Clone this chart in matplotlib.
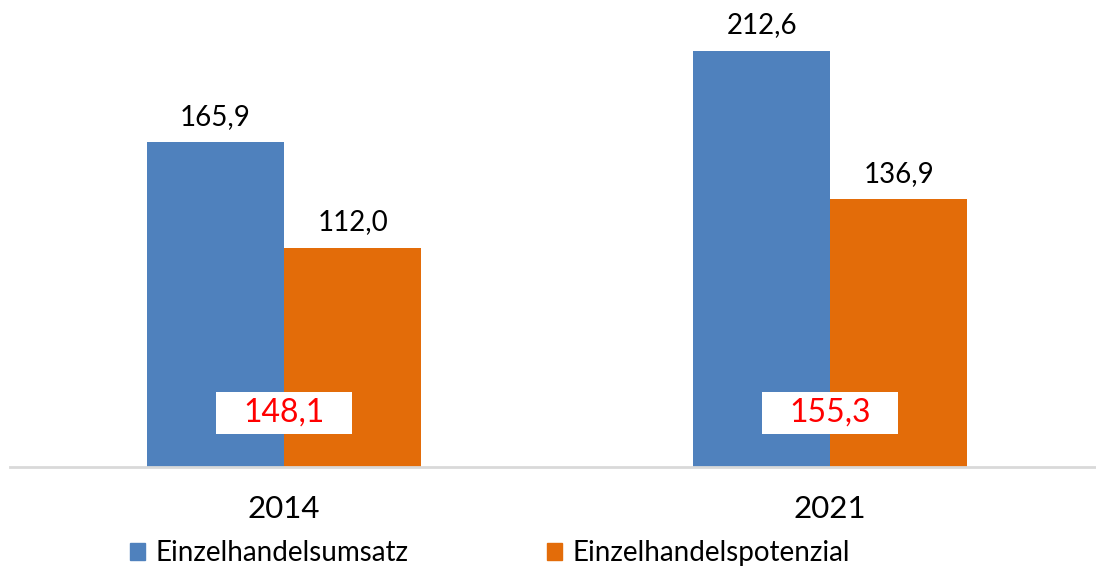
import matplotlib.pyplot as plt
import numpy as np
from matplotlib.patches import Patch, Rectangle

years = ["2014", "2021"]
umsatz = [165.9, 212.6]
potenzial = [112.0, 136.9]
zentral = [148.1, 155.3]

blue = "#4F81BD"
orange = "#E36C09"

plt.rcParams['font.family'] = ['Lato', 'DejaVu Sans']

def de(v):
    return f"{v:.1f}".replace(".", ",")

fig = plt.figure(figsize=(10.96, 5.69), dpi=100)
ax = fig.add_axes([10 / 1096, 102 / 569, 1086 / 1096, 450 / 569])

x = np.arange(len(years))
w = 0.251
b1 = ax.bar(x - w / 2, umsatz, w, color=blue, label="Einzelhandelsumsatz")
b2 = ax.bar(x + w / 2, potenzial, w, color=orange, label="Einzelhandelspotenzial")

for bars in (b1, b2):
    for r in bars:
        ax.annotate(de(r.get_height()), (r.get_x() + r.get_width() / 2, r.get_height()),
                    xytext=(0, 9), textcoords="offset points", ha="center", va="bottom",
                    fontsize=20, color="#000000")

# white boxes with the red values
box_w, box_h, box_y = 0.249, 21.5, 27.7
for xi, v in zip(x, zentral):
    ax.add_patch(Rectangle((xi - box_w / 2, box_y - box_h / 2), box_w, box_h,
                           fc="white", ec="none", zorder=3))
    ax.text(xi, box_y, de(v), ha="center", va="center", fontsize=23, color="#FF0000",
            zorder=4)

ax.set_xlim(-0.502, 1.487)
ax.set_ylim(0, 230)
ax.set_xticks(x)
ax.set_xticklabels(years, fontsize=22.5)
ax.tick_params(axis="x", length=0, pad=20)
ax.set_yticks([])
for s in ["top", "right", "left"]:
    ax.spines[s].set_visible(False)
ax.spines["bottom"].set_color("#D9D9D9")
ax.spines["bottom"].set_linewidth(2)

handles = [Patch(color=blue), Patch(color=orange)]
fig.legend(handles, ["Einzelhandelsumsatz", "Einzelhandelspotenzial"], loc="center",
           bbox_to_anchor=(490 / 1096, 1 - 553 / 569), ncol=2, frameon=False,
           fontsize=20, handlelength=0.55, handleheight=0.55, handletextpad=0.36,
           columnspacing=5, borderaxespad=0)

fig.savefig("out.png", dpi=100)
